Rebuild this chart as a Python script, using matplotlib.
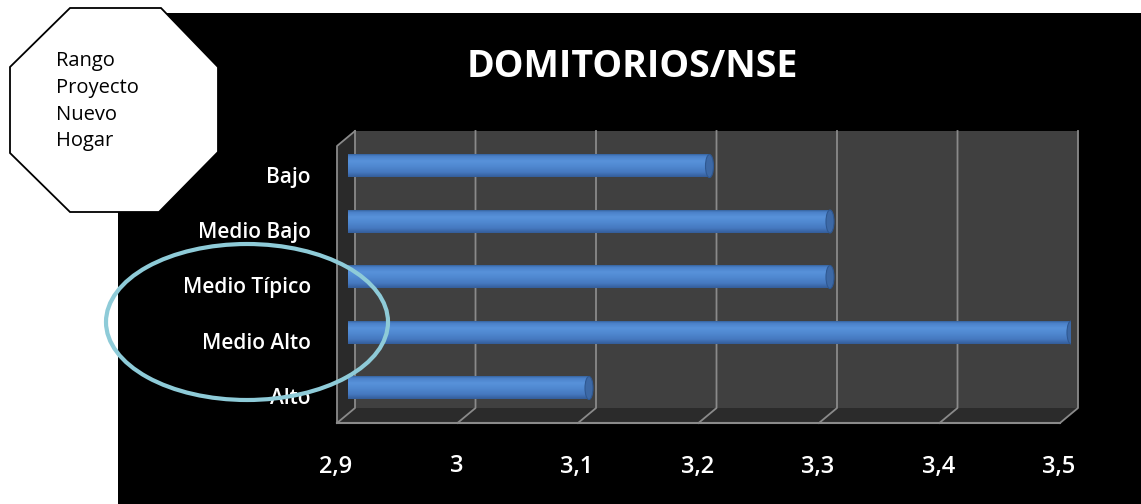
import numpy as np
import matplotlib
matplotlib.use("Agg")
import matplotlib.pyplot as plt
from matplotlib.patches import Polygon, Ellipse, Rectangle
from matplotlib.lines import Line2D
from matplotlib.colors import to_rgb
from matplotlib.transforms import offset_copy, blended_transform_factory

plt.rcParams['font.family'] = ['Open Sans', 'DejaVu Sans']

# ---- data -------------------------------------------------------------
categories = ["Alto", "Medio Alto", "Medio Típico", "Medio Bajo", "Bajo"]
values = [3.1, 3.5, 3.3, 3.3, 3.2]
x_ticks = [2.9, 3.0, 3.1, 3.2, 3.3, 3.4, 3.5]
x_tick_labels = ["2,9", "3", "3,1", "3,2", "3,3", "3,4", "3,5"]
title = "DOMITORIOS/NSE"
note_lines = ["Rango", "Proyecto", "Nuevo", "Hogar"]

# ---- figure -----------------------------------------------------------
W, H = 1141, 504
fig = plt.figure(figsize=(W / 100, H / 100), dpi=100, facecolor="white")

# backdrop layer in pixel units
bg = fig.add_axes([0, 0, 1, 1], zorder=0)
bg.set_xlim(0, W)
bg.set_ylim(H, 0)
bg.axis("off")
bg.add_patch(Rectangle((118, 13), W - 118, H - 13, facecolor="black", edgecolor="none"))

# chart axes: bars live here
ax_left, ax_right = 348, 1071
row_top, row_bottom = 166, 388
n = len(categories)
step = (row_bottom - row_top) / (n - 1)
ax_top = row_top - step / 2
ax_bot = row_bottom + step / 2
ax = fig.add_axes([ax_left / W, 1 - ax_bot / H, (ax_right - ax_left) / W, (ax_bot - ax_top) / H],
                  zorder=1)
ax.axis("off")
ax.patch.set_alpha(0)

px_per_unit = (ax_right - ax_left) / (x_ticks[-1] - x_ticks[0])
bar_h = 23 / step
cap_rx = 4 / px_per_unit

# vertical shading of the cylinders
stops = [(0.00, "#36649f"), (0.08, "#4a80c8"), (0.30, "#5892da"), (0.55, "#4f87cf"),
         (0.80, "#4578bf"), (1.00, "#345d99")]
fr = np.linspace(0, 1, 64)
grad = np.stack([np.interp(fr, [s[0] for s in stops], [to_rgb(s[1])[k] for s in stops])
                 for k in range(3)], axis=-1)[:, None, :]

for i, v in enumerate(values):
    y0, y1 = i - bar_h / 2, i + bar_h / 2
    ax.imshow(grad, extent=(x_ticks[0], v, y0, y1), aspect="auto", origin="upper",
              interpolation="bilinear", zorder=2)
    # rounded near end
    left_cap = Ellipse((x_ticks[0], i), 2 * cap_rx, bar_h, transform=ax.transData)
    im = ax.imshow(grad, extent=(x_ticks[0] - cap_rx, x_ticks[0], y0, y1), aspect="auto",
                   origin="upper", interpolation="bilinear", zorder=2)
    im.set_clip_path(left_cap)
    # far end cap
    ax.add_patch(Ellipse((v, i), 2 * cap_rx, bar_h, facecolor="#3d69a6",
                         edgecolor="#2f5891", lw=0.8, zorder=3))

ax.set_xlim(x_ticks[0], x_ticks[-1])
ax.set_ylim(-0.5, n - 0.5)

# ---- 3D box (walls, floor, gridlines) ---------------------------------
def xpx(v):
    return ax.transData.transform((v, 0))[0]

wall_top, wall_bot = 131, 408
dx, dy = -18, 15
xb = [xpx(t) + 7 for t in x_ticks]
grid_c = "#8a8a8a"

bg.add_patch(Rectangle((xb[0], wall_top), xb[-1] - xb[0], wall_bot - wall_top,
                       facecolor="#404040", edgecolor="none"))
bg.add_patch(Polygon([(xb[0], wall_top), (xb[0], wall_bot), (xb[0] + dx, wall_bot + dy),
                      (xb[0] + dx, wall_top + dy)], closed=True, facecolor="#2a2a2a",
                     edgecolor="none"))
bg.add_patch(Polygon([(xb[0], wall_bot), (xb[-1], wall_bot), (xb[-1] + dx, wall_bot + dy),
                      (xb[0] + dx, wall_bot + dy)], closed=True, facecolor="#2b2b2b",
                     edgecolor="none"))
for x in xb:
    bg.add_line(Line2D([x, x, x + dx], [wall_top, wall_bot, wall_bot + dy], color=grid_c, lw=1.3))
bg.add_line(Line2D([xb[0] + dx, xb[-1] + dx], [wall_bot + dy, wall_bot + dy], color=grid_c, lw=1.5))
bg.add_line(Line2D([xb[0], xb[0] + dx, xb[0] + dx], [wall_top, wall_top + dy, wall_bot + dy],
                   color=grid_c, lw=1.3))

# ---- text --------------------------------------------------------------
lab_tr = offset_copy(ax.transData, fig=fig, x=311 - ax_left, y=-16.5, units="dots")
for i, cat in enumerate(categories):
    ax.text(x_ticks[0], i, cat, transform=lab_tr, ha="right", va="baseline",
            color="white", fontsize=15, fontweight="semibold", zorder=4)

tick_tr = offset_copy(blended_transform_factory(ax.transData, ax.transAxes), fig=fig,
                      x=-12, y=-(472.5 - ax_bot), units="dots")
for t, lab in zip(x_ticks, x_tick_labels):
    ax.text(t, 0, lab, transform=tick_tr, ha="center", va="baseline", color="white",
            fontsize=17, fontweight="semibold", clip_on=False)

fig.text(632 / W, 1 - 76.7 / H, title, ha="center", va="baseline", fontsize=27,
         fontweight="bold", color="white")

# ---- overlay: callout octagon and highlight ring ----------------------
fg = fig.add_axes([0, 0, 1, 1], zorder=3)
fg.set_xlim(0, W)
fg.set_ylim(H, 0)
fg.axis("off")
fg.patch.set_alpha(0)

fg.add_patch(Polygon([(70, 8), (161, 8), (218, 67), (218, 152), (159, 212), (70, 212),
                      (10, 153), (10, 67)], closed=True, facecolor="white",
                     edgecolor="black", lw=1.3))
for j, line in enumerate(note_lines):
    fg.text(56, 66 + j * 26.8, line, fontsize=14.5, va="baseline", ha="left", color="black")

fg.add_patch(Ellipse((247, 322), 282, 156, fill=False, edgecolor="#8ecbd8", lw=3))

fig.savefig("out.png", dpi=100, facecolor=fig.get_facecolor())
